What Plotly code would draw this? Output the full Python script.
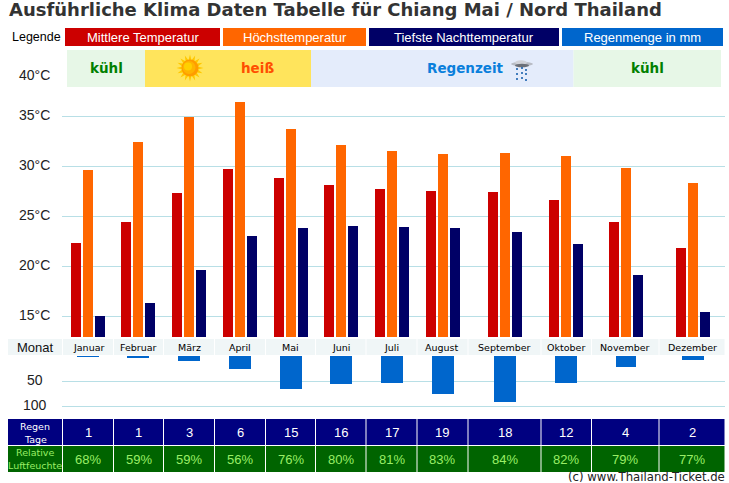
import math
import plotly.graph_objects as go

# Climate figures for Chiang Mai
months = ["Januar", "Februar", "März", "April", "Mai", "Juni", "Juli",
          "August", "September", "Oktober", "November", "Dezember"]
mean_temp = [22.3, 24.4, 27.3, 29.7, 28.8, 28.1, 27.7, 27.5, 27.4, 26.6, 24.4, 21.8]
high_temp = [29.6, 32.4, 34.9, 36.4, 33.7, 32.1, 31.5, 31.2, 31.3, 31.0, 29.8, 28.3]
low_temp = [15.0, 16.3, 19.6, 23.0, 23.8, 24.0, 23.9, 23.8, 23.4, 22.2, 19.1, 15.4]
rain_mm = [2, 4, 10, 26, 66, 56, 54, 76, 92, 54, 22, 8]
rain_days = [1, 1, 3, 6, 15, 16, 17, 19, 18, 12, 4, 2]
humidity = [68, 59, 59, 56, 76, 80, 81, 83, 84, 82, 79, 77]
temp_ticks = [15, 20, 25, 30, 35]
rain_ticks = [50, 100]

# Page geometry in pixels
W, H = 729, 483
EDGES = [62.5, 113.5, 163.5, 214.5, 265.5, 315.5, 366, 417, 468, 541, 591.5, 659, 725]
CENTERS = [88, 138, 189, 240, 291, 341, 392, 443, 505, 566, 626, 693]
RAIN_W = [22, 22, 22, 22, 22, 22, 22, 22, 22, 22, 20, 22]
COL_MID = [(a + b) / 2 for a, b in zip(EDGES, EDGES[1:])]

RED, ORANGE, NAVY, BLUE = "#CC0000", "#FF6600", "#000066", "#0066CC"
SANS, DEJAVU = "Liberation Sans", "DejaVu Sans"


def px(x):
    return x / W


def py(y):
    return 1 - y / H


shapes, notes = [], []


def rect(x0, y0, x1, y1, color):
    shapes.append(dict(type="rect", xref="paper", yref="paper", x0=px(x0), x1=px(x1),
                       y0=py(y1), y1=py(y0), fillcolor=color, line_width=0, layer="below"))


def oval(cx, cy, rx, ry, color):
    shapes.append(dict(type="circle", xref="paper", yref="paper", x0=px(cx - rx), x1=px(cx + rx),
                       y0=py(cy + ry), y1=py(cy - ry), fillcolor=color, line_width=0, layer="above"))


def label(x, y, text, size, color, font=SANS, bold=False, anchor="center"):
    if bold:
        text = f"<b>{text}</b>"
    notes.append(dict(xref="paper", yref="paper", x=px(x), y=py(y), text=text, showarrow=False,
                      xanchor=anchor, yanchor="middle", borderpad=0,
                      font=dict(family=font, size=size, color=color)))


# Heading and legend strip
label(8, 9.5, "Ausführliche Klima Daten Tabelle für Chiang Mai / Nord Thailand", 18, "#333333",
      DEJAVU, True, "left")
label(36, 37.5, "Legende", 12.5, "#000000")
for x0, x1, color, text in [(65, 220, RED, "Mittlere Temperatur"),
                            (223, 366, ORANGE, "Höchsttemperatur"),
                            (369, 559, NAVY, "Tiefste Nachttemperatur"),
                            (562, 723, BLUE, "Regenmenge in mm")]:
    rect(x0, 28, x1, 46, color)
    label((x0 + x1) / 2, 37.5, text, 13, "#FFFFFF")

# Season band above the temperature bars
rect(67, 50, 145, 87, "#E7F7E7")
rect(145, 50, 311, 87, "#FFE45C")
rect(311, 50, 573.5, 87, "#E4ECFB")
rect(573.5, 50, 721, 87, "#E7F7E7")
label(106, 68, "kühl", 13.5, "#008000", DEJAVU, True)
label(257, 68, "heiß", 13.5, "#FF4E00", DEJAVU, True)
label(465.5, 68, "Regenzeit", 13.5, "#0A7FDC", DEJAVU, True)
label(647, 68, "kühl", 13.5, "#008000", DEJAVU, True)

# Sun icon: a spiked star under a shaded disc
star = []
for i in range(32):
    r = 13.5 if i % 2 == 0 else 8
    a = math.pi * i / 16
    star.append((190 + r * math.cos(a), 68 + r * math.sin(a)))
star_path = "M " + " L ".join(f"{px(x):.5f},{py(y):.5f}" for x, y in star) + " Z"
shapes.append(dict(type="path", xref="paper", yref="paper", path=star_path,
                   fillcolor="#FFC800", line_width=0, layer="above"))
oval(190, 68, 8.5, 8.5, "#FF9C00")
oval(189, 67.5, 6.5, 6.5, "#FFB400")
oval(188, 66.5, 4, 4, "#FFD000")

# Rain cloud icon
oval(522, 64, 11, 2.2, "#B8BCC4")
oval(521, 62.5, 6, 2.2, "#D0D2D8")
oval(522, 65.5, 7, 1.8, "#6C7078")
for dx, dy in [(-4, 69), (1, 68), (5, 70), (-4, 74), (1, 73), (5, 74), (-4, 79), (1, 78), (5, 80)]:
    oval(521 + dx, dy, 1, 1.1, "#0C58A8")

# Month row and bottom table frames
rect(8, 339, 62, 355, "#F0F6F7")
rect(8, 419, 62, 445, "#000080")
rect(8, 446, 62, 472, "#006400")
for a, b in zip(EDGES, EDGES[1:]):
    rect(a + 0.5, 339, b - 0.5, 355, "#F0F6F7")
    rect(a + 0.5, 419, b - 0.5, 445, "#000080")
    rect(a + 0.5, 446, b - 0.5, 472, "#006400")

label(35, 347.5, "Monat", 13, "#111111")
label(35, 426, "Regen", 9.5, "#FFFFFF", DEJAVU)
label(35, 439, "Tage", 9.5, "#FFFFFF", DEJAVU)
label(35, 452.5, "Relative", 9.5, "#99EE66", DEJAVU)
label(35, 465.5, "Luftfeuchte", 9.5, "#99EE66", DEJAVU)
for mid, m, d, h in zip(COL_MID, months, rain_days, humidity):
    label(mid, 347, m, 9.5, "#000000", DEJAVU)
    label(mid, 432.5, str(d), 13, "#FFFFFF")
    label(mid, 459.5, f"{h}%", 13, "#99EE66")
label(726, 476.8, "(c) www.Thailand-Ticket.de", 11.7, "#222222", DEJAVU, anchor="right")

# Axis labels placed relative to their own axes
notes.append(dict(xref="paper", yref="paper", x=px(34.5), y=py(75), text="40°C", showarrow=False,
                  xanchor="center", yanchor="middle", font=dict(family=SANS, size=14, color="#222222")))
for t in temp_ticks:
    notes.append(dict(xref="paper", yref="y", x=px(34.5), y=t, yshift=1, text=f"{t}°C", showarrow=False,
                      xanchor="center", yanchor="middle", font=dict(family=SANS, size=14, color="#222222")))
for t in rain_ticks:
    notes.append(dict(xref="paper", yref="y2", x=px(34.5), y=t, yshift=1, text=str(t), showarrow=False,
                      xanchor="center", yanchor="middle", font=dict(family=SANS, size=14, color="#222222")))

# White breaks in the grid lines at each column boundary
for e in EDGES[1:-1]:
    for ref, lo, hi in [("y", 12.9, 37), ("y2", 108, 0)]:
        shapes.append(dict(type="line", xref="x", yref=ref, x0=e, x1=e, y0=lo, y1=hi,
                           line=dict(color="#FFFFFF", width=1), layer="below"))

fig = go.Figure()
for values, color, offset, name in [(mean_temp, RED, -12, "Mittlere Temperatur"),
                                    (high_temp, ORANGE, 0, "Höchsttemperatur"),
                                    (low_temp, NAVY, 12, "Tiefste Nachttemperatur")]:
    fig.add_trace(go.Bar(x=[c + offset for c in CENTERS], y=values, width=10, name=name,
                         marker=dict(color=color, line_width=0), xaxis="x", yaxis="y"))
fig.add_trace(go.Bar(x=CENTERS, y=rain_mm, width=RAIN_W, name="Regenmenge in mm",
                     marker=dict(color=BLUE, line_width=0), xaxis="x", yaxis="y2"))

fig.update_layout(
    width=W, height=H, margin=dict(l=0, r=0, t=0, b=0), autosize=False,
    paper_bgcolor="#FFFFFF", plot_bgcolor="rgba(0,0,0,0)", showlegend=False,
    barmode="overlay", bargap=0,
    xaxis=dict(domain=[px(62), px(725)], range=[62, 725], showgrid=False, zeroline=False,
               showticklabels=False, ticks="", fixedrange=True),
    yaxis=dict(domain=[py(337), py(96)], range=[12.9, 37], tickvals=temp_ticks, showticklabels=False,
               ticks="", gridcolor="#B8DFE6", gridwidth=1, zeroline=False, fixedrange=True),
    yaxis2=dict(domain=[py(410), py(356)], range=[108, 0], tickvals=rain_ticks, showticklabels=False,
                ticks="", gridcolor="#B8DFE6", gridwidth=1, zeroline=False, fixedrange=True),
    shapes=shapes, annotations=notes,
)
fig.write_html("out.html", config=dict(displayModeBar=False))
